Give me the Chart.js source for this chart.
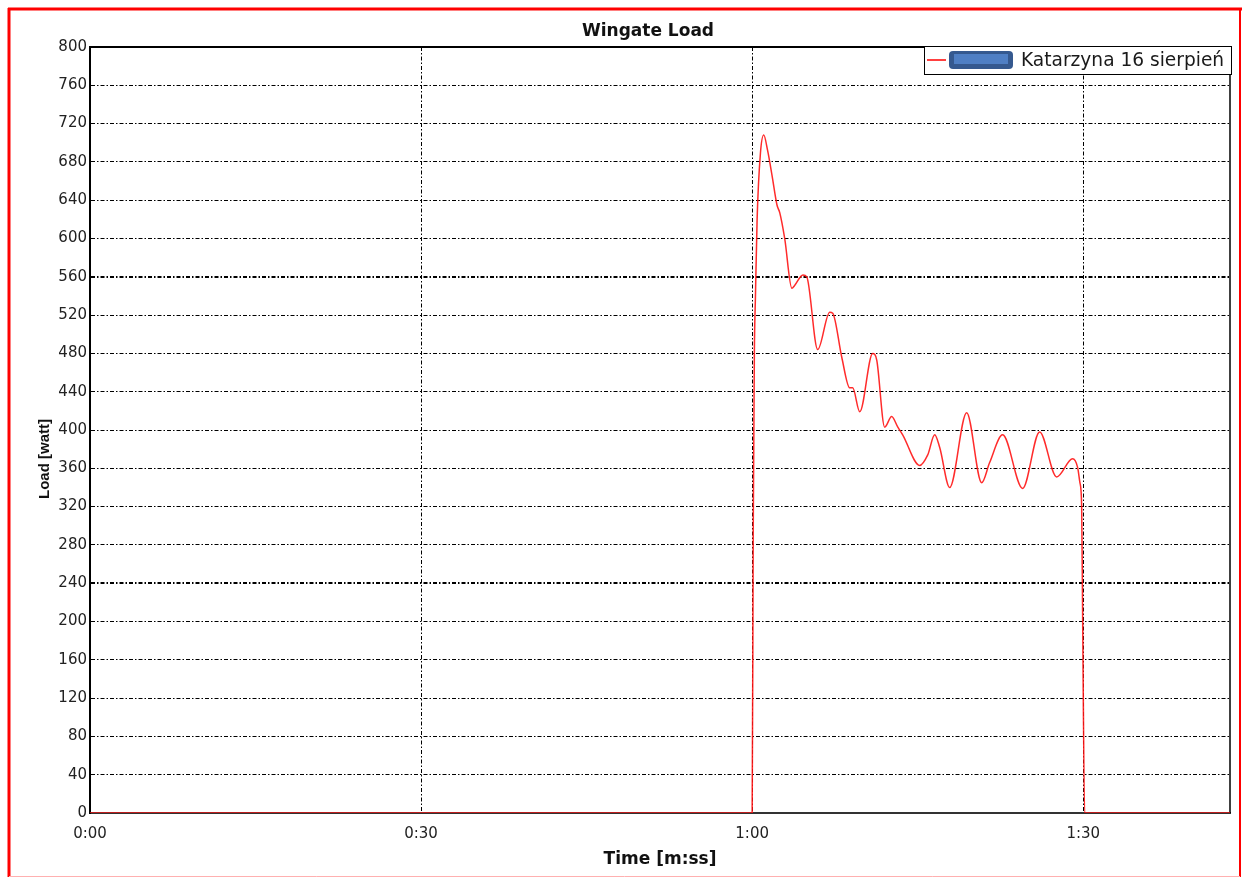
<!DOCTYPE html>
<html><head><meta charset="utf-8">
<script src="https://cdn.jsdelivr.net/npm/chart.js@4.4.1/dist/chart.umd.min.js"></script>
<style>html,body{margin:0;padding:0;background:#fff;overflow:hidden}canvas{display:block}</style>
</head><body>
<canvas id="c" width="1247" height="877" style="width:1247px;height:877px"></canvas>
<script>
const chartTitle = 'Wingate Load';
const seriesName = 'Katarzyna 16 sierpień';
const xAxisTitle = 'Time [m:ss]';
const yAxisTitle = 'Load [watt]';
const timeSeconds = [0, 60.0, 60.1, 60.2, 60.3, 60.45, 60.75, 61.05, 61.4, 61.8, 62.25, 62.5, 62.95, 63.6, 63.85, 64.6, 64.95,
  65.94, 67.03, 67.3, 68.12, 68.84, 69.11, 69.75, 70.92, 71.29, 72.01, 72.64, 73.2, 73.64, 75.18, 75.91, 76.54, 76.99,
  77.9, 79.44, 80.8, 81.52, 82.7, 84.51, 86.05, 87.59, 89.04, 89.49, 89.7, 89.86, 89.95, 90.13, 103.3];
const loadWatts = [0, 0, 300, 480, 540, 620, 689, 708, 692, 666, 635, 627, 600, 548, 551, 562, 560,
  484, 523, 522, 476, 444, 444, 419, 480, 473, 403, 414, 403, 395, 363, 374, 395, 382,
  340, 418, 345, 366, 395, 339, 398, 351, 370, 361, 345, 320, 200, 0, 0];
const xTickSeconds = [0, 30, 60, 90];
const xMax = 103.3;
const yMin = 0, yMax = 800, yStep = 40;
const heavyGridValues = [560, 240];

function fmtTime(s) {
  const m = Math.floor(s / 60), r = Math.round(s % 60);
  return m + ':' + String(r).padStart(2, '0');
}

const FONT = 'DejaVu Sans';
Chart.defaults.font.family = FONT;
Chart.defaults.color = '#222';

const decorPlugin = {
  id: 'decor',
  beforeDraw(chart) {
    const ctx = chart.ctx;
    ctx.save();
    ctx.fillStyle = '#fff';
    ctx.fillRect(0, 0, chart.width, chart.height);
    ctx.restore();
  },
  beforeDatasetsDraw(chart) {
    const {ctx, chartArea: a} = chart;
    ctx.save();
    ctx.strokeStyle = '#000';
    ctx.lineWidth = 2;
    ctx.beginPath();
    ctx.moveTo(a.left, a.top); ctx.lineTo(a.right, a.top);
    ctx.stroke();
    ctx.lineWidth = 1.5;
    ctx.beginPath();
    ctx.moveTo(a.right, a.top); ctx.lineTo(a.right, a.bottom);
    ctx.stroke();
    ctx.restore();
  },
  afterDraw(chart) {
    const ctx = chart.ctx;
    ctx.save();
    // title
    ctx.fillStyle = '#111';
    ctx.font = 'bold 17px "' + FONT + '"';
    ctx.textAlign = 'center';
    ctx.textBaseline = 'middle';
    ctx.fillText(chartTitle, 648, 32);
    // y axis title
    ctx.save();
    ctx.translate(45, 459);
    ctx.rotate(-Math.PI / 2);
    ctx.font = 'bold 15px "Liberation Sans"';
    ctx.fillText(yAxisTitle, 0, 0);
    ctx.restore();
    // legend box
    const lx = 924, ly = 46, lw = 307, lh = 28;
    ctx.fillStyle = '#fff';
    ctx.fillRect(lx, ly, lw, lh);
    ctx.strokeStyle = '#000';
    ctx.lineWidth = 1;
    ctx.strokeRect(lx + 0.5, ly + 0.5, lw, lh);
    ctx.strokeStyle = '#ff0000';
    ctx.lineWidth = 1.5;
    ctx.beginPath(); ctx.moveTo(927, 60); ctx.lineTo(946, 60); ctx.stroke();
    ctx.fillStyle = '#35598f';
    ctx.beginPath();
    ctx.roundRect(949, 51, 64, 18, 4);
    ctx.fill();
    ctx.fillStyle = '#4f7fc4';
    ctx.fillRect(954, 54, 54, 10);
    ctx.fillStyle = '#1a1a1a';
    ctx.font = '18.6px "' + FONT + '"';
    ctx.textAlign = 'left';
    ctx.textBaseline = 'middle';
    ctx.fillText(seriesName, 1021, 61);
    // red frame
    ctx.strokeStyle = '#ff0000';
    ctx.lineWidth = 3;
    ctx.beginPath(); ctx.moveTo(9, 8); ctx.lineTo(9, 877); ctx.stroke();
    ctx.beginPath(); ctx.moveTo(8, 9); ctx.lineTo(1242, 9); ctx.stroke();
    ctx.lineWidth = 2;
    ctx.beginPath(); ctx.moveTo(1240, 8); ctx.lineTo(1240, 877); ctx.stroke();
    ctx.strokeStyle = '#ffb0b0';
    ctx.lineWidth = 1;
    ctx.beginPath(); ctx.moveTo(9, 876.5); ctx.lineTo(1240, 876.5); ctx.stroke();
    ctx.restore();
  }
};

const points = timeSeconds.map((t, i) => ({x: t, y: loadWatts[i]}));

new Chart(document.getElementById('c'), {
  type: 'line',
  data: {
    datasets: [{
      label: seriesName,
      data: points,
      borderColor: 'rgba(255,20,20,0.9)',
      borderWidth: 1.5,
      pointRadius: 0,
      cubicInterpolationMode: 'monotone',
      fill: false
    }]
  },
  options: {
    responsive: false,
    animation: false,
    devicePixelRatio: 1,
    layout: {padding: {top: 47, left: 32, right: 17, bottom: 3}},
    plugins: {legend: {display: false}, title: {display: false}, tooltip: {enabled: false}},
    scales: {
      x: {
        type: 'linear',
        min: 0, max: xMax,
        afterFit(s) { s.height = 61; },
        afterBuildTicks(s) { s.ticks = xTickSeconds.map(v => ({value: v})); },
        ticks: {callback: v => fmtTime(v), font: {size: 15}, padding: 12, color: '#222', maxRotation: 0, autoSkip: false},
        grid: {color: '#000', lineWidth: 1, drawTicks: false},
        border: {display: true, color: '#333', width: 2, dash: [4, 2, 1.5, 2]},
        title: {display: true, text: xAxisTitle, font: {size: 17, weight: 'bold'}, color: '#111', padding: {top: 4, bottom: 4}}
      },
      y: {
        min: yMin, max: yMax,
        afterFit(s) { s.width = 58; },
        ticks: {stepSize: yStep, font: {size: 15}, padding: 3, color: '#222'},
        grid: {
          color: '#000',
          lineWidth: c => (c.tick && heavyGridValues.includes(c.tick.value)) ? 2 : 1,
          drawTicks: false
        },
        border: {display: true, color: '#000', width: 2, dash: [4, 2, 1.5, 2]},
        title: {display: false, text: yAxisTitle}
      }
    }
  },
  plugins: [decorPlugin]
});
</script>
</body></html>
